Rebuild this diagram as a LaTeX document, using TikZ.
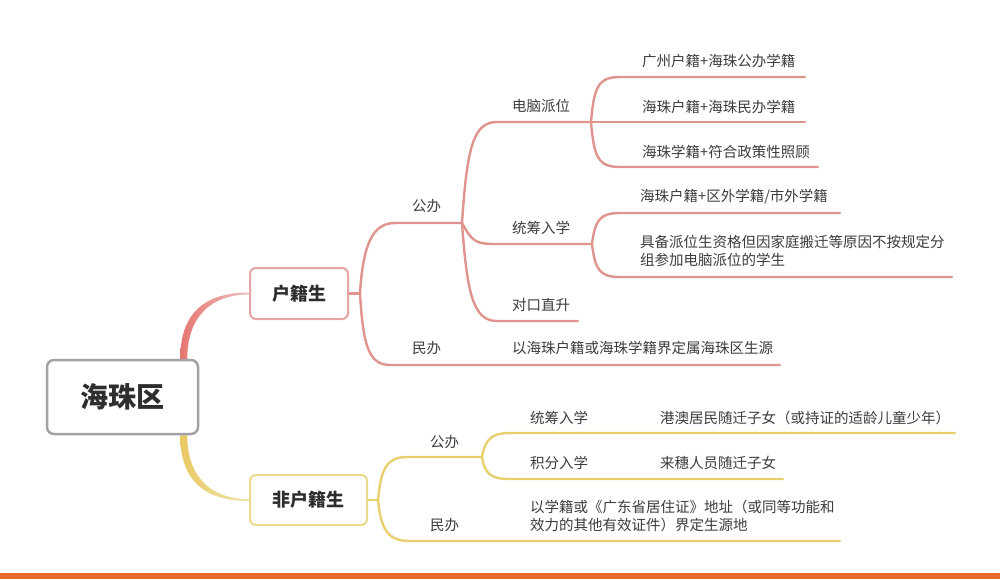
\documentclass[tikz,border=0pt]{standalone}
\usepackage{fontspec}
\setmainfont{Noto Sans CJK SC}
\usepackage{tikz}
\usetikzlibrary{backgrounds}

\definecolor{redl}{HTML}{E0948E}
\definecolor{redbox}{HTML}{E4A5A5}
\definecolor{yell}{HTML}{E8D06E}
\definecolor{yelbox}{HTML}{E9DB8A}
\definecolor{rootgray}{HTML}{A3A3A3}
\definecolor{txt}{HTML}{3C3C3C}
\definecolor{boxtxt}{HTML}{2E2E2E}
\definecolor{barorange}{HTML}{E9692C}

\tikzset{
  lbl/.style={anchor=west, inner sep=0pt, text=txt, align=left,
              font=\fontsize{14.5}{18}\selectfont},
  hbox/.style={draw, line width=2pt, rounded corners=6pt, fill=white, text=boxtxt,
               font=\bfseries\fontsize{18}{20}\selectfont},
  rline/.style={draw=redl, line width=2.4pt, line cap=round},
  yline/.style={draw=yell, line width=2.4pt, line cap=round}
}

\begin{document}
\begin{tikzpicture}[x=1pt,y=-1pt]
\useasboundingbox (0,0) rectangle (1000,579);

% boxes
\node[hbox, draw=rootgray, line width=2.5pt, rounded corners=7pt, minimum width=151pt,
      minimum height=74pt, font=\bfseries\fontsize{28}{30}\selectfont] (root) at (122.5,397) {海珠区};
\node[hbox, draw=redbox, minimum width=98pt, minimum height=51pt] (hj) at (299,293.5) {户籍生};
\node[hbox, draw=yelbox, minimum width=117pt, minimum height=50pt] (fhj) at (308.5,500) {非户籍生};

% labels
\node[lbl] (gb) at (412,206) {公办};
\node[lbl] (mb) at (412,348) {民办};
\node[lbl] (mbc) at (512,348) {以海珠户籍或海珠学籍界定属海珠区生源};
\node[lbl] (dn) at (512,106) {电脑派位};
\node[lbl] (tc) at (512,228) {统筹入学};
\node[lbl] (dk) at (512,305) {对口直升};
\node[lbl] (dn1) at (642,61) {广州户籍+海珠公办学籍};
\node[lbl] (dn2) at (642,107) {海珠户籍+海珠民办学籍};
\node[lbl] (dn3) at (642,152) {海珠学籍+符合政策性照顾};
\node[lbl] (tc1) at (640,197) {海珠户籍+区外学籍/市外学籍};
\node[lbl] (tc2) at (640,251) {具备派位生资格但因家庭搬迁等原因不按规定分\\组参加电脑派位的学生};

\node[lbl] (ygb) at (430,442) {公办};
\node[lbl] (ymb) at (430,525) {民办};
\node[lbl] (ymbc) at (530,516) {以学籍或《广东省居住证》地址（或同等功能和\\效力的其他有效证件）界定生源地};
\node[lbl] (ytc) at (530,418) {统筹入学};
\node[lbl] (yjf) at (530,463) {积分入学};
\node[lbl] (ytc1) at (660,418) {港澳居民随迁子女（或持证的适龄儿童少年）};
\node[lbl] (yjf1) at (660,463) {来穗人员随迁子女};

% junctions and line ends
\coordinate (hj-j) at (360,293.5);
\coordinate (gb-l) at (395,223);   \coordinate (gb-j) at (462,223);
\coordinate (mb-l) at (390,365);   \coordinate (mb-r) at (780,365);
\coordinate (dn-l) at (497,122);   \coordinate (dn-j) at (591,122);
\coordinate (tc-l) at (495,244);   \coordinate (tc-j) at (592,244);
\coordinate (dk-l) at (497,321);   \coordinate (dk-r) at (578,321);
\coordinate (dn1-l) at (620,77);   \coordinate (dn1-r) at (805,77);
\coordinate (dn2-r) at (805,122);
\coordinate (dn3-l) at (620,167);  \coordinate (dn3-r) at (818,167);
\coordinate (tc1-l) at (620,213);  \coordinate (tc1-r) at (840,213);
\coordinate (tc2-l) at (620,277);  \coordinate (tc2-r) at (952,277);

\coordinate (fhj-j) at (378,500);
\coordinate (ygb-l) at (407,457);  \coordinate (ygb-j) at (482,457);
\coordinate (ymb-l) at (410,541);  \coordinate (ymb-r) at (840,541);
\coordinate (ytc-l) at (510,433);  \coordinate (ytc-r) at (955,433);
\coordinate (yjf-l) at (510,479);  \coordinate (yjf-r) at (783,479);

\begin{scope}[on background layer]
\fill[white] (0,0) rectangle (1000,579);
\fill[barorange] (0,573) rectangle (1000,579);

% root to level 1
\shade[left color=redl!80!red, right color=redbox!70]
  ([xshift=-19pt]root.north east) .. controls +(0,-45) and +(-45,0) .. ([yshift=1pt]hj.west)
  -- ([yshift=-1pt]hj.west) .. controls +(-40,0) and +(0,-40) .. ([xshift=-12pt]root.north east) -- cycle;
\shade[left color=yell!90!orange, right color=yelbox!70]
  ([xshift=-19pt]root.south east) .. controls +(0,45) and +(-45,0) .. ([yshift=-1pt]fhj.west)
  -- ([yshift=1pt]fhj.west) .. controls +(-40,0) and +(0,40) .. ([xshift=-12pt]root.south east) -- cycle;

% 户籍生
\draw[rline] (hj.east) -- (hj-j);
\draw[rline] (hj-j) .. controls +(3,-50) and +(-22,0) .. (gb-l) -- (gb-j);
\draw[rline] (hj-j) .. controls +(3,50) and +(-22,0) .. (mb-l) -- (mb-r);
\draw[rline] (gb-j) .. controls +(5,-75) and +(-24,0) .. (dn-l) -- (dn-j);
\draw[rline] (gb-j) .. controls +(10,18) and +(-20,0) .. (tc-l) -- (tc-j);
\draw[rline] (gb-j) .. controls +(5,70) and +(-24,0) .. (dk-l) -- (dk-r);
\draw[rline] (dn-j) .. controls +(3,-35) and +(-22,0) .. (dn1-l) -- (dn1-r);
\draw[rline] (dn-j) -- (dn2-r);
\draw[rline] (dn-j) .. controls +(3,35) and +(-22,0) .. (dn3-l) -- (dn3-r);
\draw[rline] (tc-j) .. controls +(3,-24) and +(-20,0) .. (tc1-l) -- (tc1-r);
\draw[rline] (tc-j) .. controls +(3,26) and +(-20,0) .. (tc2-l) -- (tc2-r);

% 非户籍生
\draw[yline] (fhj.east) -- (fhj-j);
\draw[yline] (fhj-j) .. controls +(3,-32) and +(-20,0) .. (ygb-l) -- (ygb-j);
\draw[yline] (fhj-j) .. controls +(3,30) and +(-22,0) .. (ymb-l) -- (ymb-r);
\draw[yline] (ygb-j) .. controls +(3,-18) and +(-18,0) .. (ytc-l) -- (ytc-r);
\draw[yline] (ygb-j) .. controls +(3,18) and +(-18,0) .. (yjf-l) -- (yjf-r);
\end{scope}

\end{tikzpicture}
\end{document}
